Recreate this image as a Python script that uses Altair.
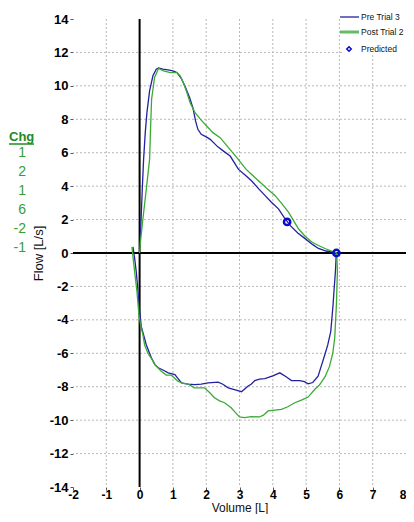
import altair as alt
import pandas as pd

# ---- data ----
pre_vol = [0.01, 0.04, 0.08, 0.12, 0.17, 0.22, 0.30, 0.40, 0.50, 0.57, 0.70, 0.85, 1.00, 1.12, 1.25, 1.37,
           1.50, 1.60, 1.68, 1.75, 1.85, 2.00, 2.12, 2.35, 2.55, 2.72, 2.97, 3.15, 3.36, 3.55, 3.77, 3.95,
           4.17, 4.35, 4.52, 4.75, 4.97, 5.20, 5.37, 5.60, 5.87, 5.90,
           5.90, 5.88, 5.84, 5.81, 5.74, 5.65, 5.56, 5.45, 5.36, 5.20, 5.06, 4.95, 4.81, 4.65, 4.56, 4.40,
           4.21, 4.00, 3.76, 3.60, 3.46, 3.35, 3.26, 3.06, 2.90, 2.66, 2.50, 2.36, 2.06, 1.85, 1.66, 1.45,
           1.26, 1.15, 1.06, 0.86, 0.70, 0.56, 0.46, 0.35, 0.20, 0.05, -0.02, -0.06, -0.10, -0.15, -0.20]
pre_flow = [0.3, 1.8, 3.8, 5.6, 7.2, 8.4, 9.7, 10.6, 11.0, 11.07, 11.0, 10.95, 10.9, 10.8, 10.45, 9.95,
            9.3, 8.7, 7.9, 7.4, 7.1, 6.95, 6.8, 6.35, 6.05, 5.8, 5.0, 4.7, 4.32, 3.9, 3.43, 3.05,
            2.64, 2.1, 1.65, 1.2, 0.86, 0.5, 0.27, 0.12, 0.03, 0.0,
            -0.3, -1.12, -2.2, -3.1, -4.7, -5.5, -6.1, -6.8, -7.37, -7.75, -7.83, -7.7, -7.63, -7.63, -7.63, -7.4,
            -7.17, -7.35, -7.51, -7.55, -7.63, -7.85, -7.96, -8.3, -8.2, -8.07, -7.85, -7.73, -7.77, -7.85, -7.87, -7.85,
            -7.77, -7.5, -7.27, -7.17, -7.0, -6.87, -6.68, -6.25, -5.49, -4.39, -3.1, -2.0, -1.12, -0.3, 0.37]

post_vol = [0.00, 0.03, 0.10, 0.20, 0.30, 0.33, 0.36, 0.45, 0.57, 0.72, 0.92, 1.12, 1.22, 1.32, 1.42, 1.52,
            1.67, 1.85, 2.02, 2.20, 2.42, 2.65, 2.92, 3.20, 3.57, 3.80, 4.07, 4.27, 4.47, 4.62, 4.77, 4.97,
            5.17, 5.37, 5.57, 5.82, 5.92,
            5.94, 5.91, 5.86, 5.80, 5.70, 5.57, 5.40, 5.27, 5.06, 4.86, 4.66, 4.45, 4.26, 3.86, 3.72, 3.60,
            3.35, 3.15, 3.00, 2.88, 2.75, 2.55, 2.40, 2.25, 2.10, 1.95, 1.65, 1.45, 1.30, 1.15, 0.95, 0.80,
            0.65, 0.46, 0.35, 0.25, 0.15, 0.10, 0.03, -0.02, -0.08, -0.15, -0.20, -0.23]
post_flow = [0.0, 0.76, 2.05, 3.8, 5.6, 7.5, 9.2, 10.5, 11.05, 10.9, 10.79, 10.79, 10.6, 10.16, 9.6, 8.97,
             8.38, 7.95, 7.58, 7.2, 6.9, 6.35, 5.71, 5.0, 4.32, 3.9, 3.43, 2.95, 2.44, 1.95, 1.45, 1.0,
             0.66, 0.45, 0.27, 0.07, 0.0,
             -1.1, -3.1, -5.07, -6.0, -6.8, -7.4, -7.9, -8.14, -8.62, -8.8, -8.96, -9.2, -9.36, -9.45, -9.7, -9.81,
             -9.79, -9.85, -9.81, -9.55, -9.26, -8.96, -8.85, -8.66, -8.35, -8.07, -8.07, -7.83, -7.8, -7.67, -7.31, -7.3,
             -7.07, -6.68, -6.3, -6.0, -5.5, -4.9, -4.3, -3.7, -2.3, -1.1, -0.2, 0.37]

pred_vol = [4.43, 5.91]
pred_flow = [1.86, 0.0]

series_names = ["Pre Trial 3", "Post Trial 2"]
series_colors = ["#2222a0", "#3aaa35"]
legend_labels = ["Pre Trial 3", "Post Trial 2", "Predicted"]

chg_header = "Chg"
chg_values = ["1", "2", "1", "6", "-2", "-1"]

x_ticks = list(range(-2, 9))
y_ticks = list(range(-14, 15, 2))
x_grid = [-1, 1, 2, 3, 4, 5, 6, 7]
y_grid = [-12, -10, -8, -6, -4, -2, 2, 4, 6, 8, 10, 12]

# ---- tables ----
rows = []
for name, vols, flows in [(series_names[0], pre_vol, pre_flow), (series_names[1], post_vol, post_flow)]:
    for i, (v, f) in enumerate(zip(vols, flows)):
        rows.append({"V": v, "F": f, "series": name, "idx": i})
df = pd.DataFrame(rows)
pred_df = pd.DataFrame({"V": pred_vol, "F": pred_flow})

W, H = 333, 468
xs = alt.Scale(domain=[-2, 8], nice=False, zero=False)
ys = alt.Scale(domain=[-14, 14], nice=False, zero=False)
FONT = "Liberation Sans"
minus_expr = "datum.value < 0 ? '-' + abs(datum.value) : '' + datum.value"

x_axis = alt.Axis(values=x_ticks, title="Volume [L]", labelExpr=minus_expr, labelPadding=-1, titlePadding=2,
                  labelFontSize=12, titleFontSize=12, labelFlush=False,
                  labelAlign=alt.condition("datum.value == 8", alt.value("right"), alt.value("center")))
y_axis = alt.Axis(values=y_ticks, title="Flow [L/s]", labelExpr=minus_expr, labelPadding=2, titlePadding=4,
                  labelFlush=False)

grid_x = alt.Chart(pd.DataFrame({"v": x_grid})).mark_rule(
    color="#b8b8b8", strokeDash=[2, 2], strokeWidth=1
).encode(x=alt.X("v:Q", scale=xs, axis=x_axis))

grid_y = alt.Chart(pd.DataFrame({"v": y_grid})).mark_rule(
    color="#b8b8b8", strokeDash=[2, 2], strokeWidth=1
).encode(y=alt.Y("v:Q", scale=ys, axis=y_axis))

zero_x = alt.Chart(pd.DataFrame({"v": [0]})).mark_rule(color="#000", strokeWidth=2).encode(
    x=alt.X("v:Q", scale=xs, axis=x_axis))
zero_y = alt.Chart(pd.DataFrame({"v": [0]})).mark_rule(color="#000", strokeWidth=2).encode(
    y=alt.Y("v:Q", scale=ys, axis=y_axis))

lines = alt.Chart(df).mark_line(strokeWidth=1.3).encode(
    x=alt.X("V:Q", scale=xs, axis=x_axis),
    y=alt.Y("F:Q", scale=ys, axis=y_axis),
    color=alt.Color("series:N", scale=alt.Scale(domain=series_names, range=series_colors), legend=None),
    detail="series:N",
    order="idx:Q",
)

pred = alt.Chart(pred_df).mark_point(shape="circle", filled=False, strokeWidth=2.5, size=40,
                                     color="#0a0ad0", opacity=1).encode(
    x=alt.X("V:Q", scale=xs, axis=x_axis), y=alt.Y("F:Q", scale=ys, axis=y_axis))

one = pd.DataFrame({"a": [0]})
legend_bg = alt.Chart(one).mark_rect(color="white").encode(
    x=alt.value(269), x2=alt.value(333), y=alt.value(-11), y2=alt.value(36))
leg_items = []
for i, lab in enumerate(legend_labels):
    yy = [-2, 13, 30][i]
    leg_items.append(alt.Chart(one).mark_text(align="left", baseline="middle", font=FONT, fontSize=8.5,
                                              color="#111", text=lab).encode(x=alt.value(288), y=alt.value(yy)))
leg_items.append(alt.Chart(one).mark_rule(color=series_colors[0], strokeWidth=1.3).encode(
    x=alt.value(267), x2=alt.value(286), y=alt.value(-2)))
leg_items.append(alt.Chart(one).mark_rule(color="#66bb66", strokeWidth=3).encode(
    x=alt.value(267), x2=alt.value(286), y=alt.value(13)))
leg_items.append(alt.Chart(one).mark_point(shape="diamond", filled=False, strokeWidth=1.5, size=20,
                                           color="#0a0ad0", opacity=1).encode(x=alt.value(276), y=alt.value(30)))

chg_items = [
    alt.Chart(one).mark_text(align="left", baseline="middle", font=FONT, fontSize=13, fontWeight="bold",
                             color="#228b22", text=chg_header).encode(x=alt.value(-64), y=alt.value(118)),
    alt.Chart(one).mark_rule(color="#228b22", strokeWidth=1.5).encode(
        x=alt.value(-64), x2=alt.value(-39), y=alt.value(125)),
]
for i, val in enumerate(chg_values):
    chg_items.append(alt.Chart(one).mark_text(align="right", baseline="middle", font=FONT, fontSize=14,
                                              color="#35a035", text=val).encode(
        x=alt.value(-47), y=alt.value(134 + 19 * i)))

chart = alt.layer(grid_x, grid_y, zero_x, zero_y, lines, pred, legend_bg, *leg_items, *chg_items).properties(
    width=W, height=H,
    autosize=alt.AutoSizeParams(type="none"),
    padding={"left": 65, "top": 11, "right": 0, "bottom": 27},
    background="white",
).configure_view(stroke=None).configure_axis(
    labelFont=FONT, labelFontSize=13, labelFontWeight="bold", labelColor="#000",
    tickColor="#555", tickSize=3, domain=False, grid=False,
    titleFont=FONT, titleFontSize=13, titleFontWeight="normal", titleColor="#111",
)

chart.save("out.html", embed_options={"renderer": "svg", "actions": False})
